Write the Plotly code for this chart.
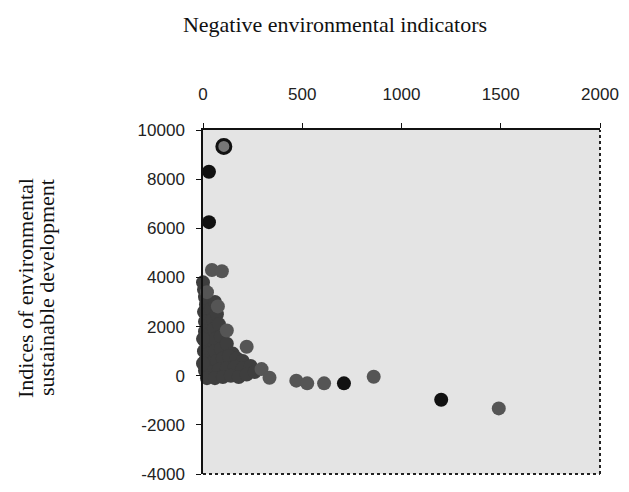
import plotly.graph_objects as go

# Dense dark cluster near origin
cluster_x = [5, 10, 15, 5, 20, 40, 60, 10, 30, 50, 70, 10, 30, 55, 80, 10, 35, 60, 90,
             5, 30, 60, 90, 120, 150, 10, 40, 70, 100, 130, 170, 200, 10, 40, 80, 120,
             160, 200, 240, 20, 60, 100, 140, 180, 220, 260, 0, 0, 0]
cluster_y = [3500, 3200, 2900, 2600, 2500, 2700, 3000, 2200, 2100, 2300, 2500, 1800,
             1700, 1900, 2100, 1400, 1300, 1500, 1600, 1000, 900, 1000, 1100, 1300, 900,
             600, 500, 600, 700, 800, 700, 600, 200, 150, 250, 300, 350, 300, 400, -100,
             -100, -50, 0, -50, 50, 150, 3800, 1500, 500]

# Medium grey points
grey_x = [20, 75, 120, 220, 295, 335, 470, 525, 610, 860, 1490, 45, 95]
grey_y = [3400, 2820, 1840, 1180, 270, -80, -200, -310, -310, -40, -1330, 4300, 4250]

# Black points
black_x = [30, 30, 710, 1200]
black_y = [8300, 6250, -310, -980]

# Ringed point
ring_x = [105]
ring_y = [9330]

x_ticks = [0, 500, 1000, 1500, 2000]
y_ticks = [-4000, -2000, 0, 2000, 4000, 6000, 8000, 10000]
y_tick_text = ["-4000", "-2000", "0", "2000", "4000", "6000", "8000", "10000"]

MS = 14
fig = go.Figure()
fig.add_trace(go.Scatter(x=cluster_x, y=cluster_y, mode="markers",
                         marker=dict(size=MS, color="#3e3e3e", line=dict(width=0)),
                         cliponaxis=False, showlegend=False))
fig.add_trace(go.Scatter(x=grey_x, y=grey_y, mode="markers",
                         marker=dict(size=MS, color="#555555", line=dict(width=0)),
                         cliponaxis=False, showlegend=False))
fig.add_trace(go.Scatter(x=black_x, y=black_y, mode="markers",
                         marker=dict(size=MS, color="#111111", line=dict(width=0)),
                         cliponaxis=False, showlegend=False))
fig.add_trace(go.Scatter(x=ring_x, y=ring_y, mode="markers",
                         marker=dict(size=MS, color="#777777", line=dict(width=3, color="#111111")),
                         cliponaxis=False, showlegend=False))

tickfont = dict(family="Liberation Sans, Arial, sans-serif", size=17, color="#222222")
serif = "Liberation Serif, Times New Roman, serif"

# page has an 8px body margin, so figure coords = page coords - 8
W, H = 621, 476
fig.update_layout(
    width=W, height=H,
    margin=dict(l=195, r=29, t=122, b=10),
    paper_bgcolor="white",
    plot_bgcolor="#e4e4e4",
    title=dict(text="Negative environmental indicators",
               x=(335 - 8) / W, xanchor="center", y=1 - 16 / H, yanchor="middle",
               font=dict(family=serif, size=22, color="#111111")),
    xaxis=dict(range=[0, 2000], side="top", tickvals=x_ticks, tickformat="d",
               showgrid=False, zeroline=False, showline=True, linecolor="#111111", linewidth=1.5,
               ticks="outside", ticklen=5, tickcolor="#111111", tickfont=tickfont,
               ticklabelstandoff=16, ticklabeloverflow="allow", automargin=False),
    yaxis=dict(range=[-4000, 10000], tickvals=y_ticks, ticktext=y_tick_text,
               showgrid=False, zeroline=False, showline=True, linecolor="#111111", linewidth=1.5,
               ticks="outside", ticklen=5, tickcolor="#111111", tickfont=tickfont,
               ticklabelstandoff=8, ticklabeloverflow="allow", automargin=False),
    shapes=[
        dict(type="line", xref="paper", yref="paper", x0=1, x1=1, y0=0, y1=1,
             line=dict(color="#222222", width=2, dash="dot")),
        dict(type="line", xref="paper", yref="paper", x0=0, x1=1, y0=0, y1=0,
             line=dict(color="#222222", width=2, dash="dot")),
    ],
    annotations=[
        dict(text="Indices of environmental",
             xref="paper", yref="paper", x=0, y=0.5, xanchor="center", yanchor="middle",
             xshift=-178, yshift=14, textangle=-90, showarrow=False,
             font=dict(family=serif, size=22, color="#111111")),
        dict(text="sustainable development",
             xref="paper", yref="paper", x=0, y=0.5, xanchor="center", yanchor="middle",
             xshift=-157, yshift=14, textangle=-90, showarrow=False,
             font=dict(family=serif, size=22, color="#111111")),
    ],
)

fig.write_html("out.html")
